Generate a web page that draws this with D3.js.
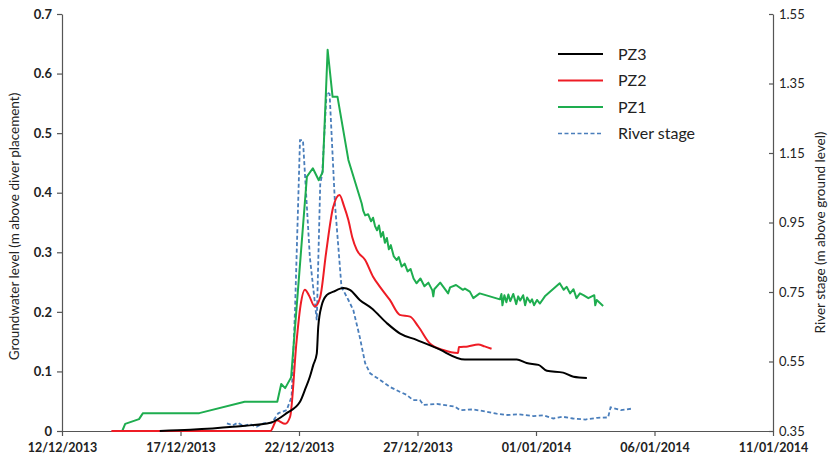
<!DOCTYPE html>
<html><head><meta charset="utf-8">
<script src="https://cdn.jsdelivr.net/npm/d3@7"></script>
<style>body{margin:0;background:#fff}svg{display:block}text{font-family:Lato,"Open Sans",sans-serif}</style>
</head><body>
<script>
// ---- data ----
const xTickLabels = ["2013-12-12","2013-12-17","2013-12-22","2013-12-27","2014-01-01","2014-01-06","2014-01-11"];
const leftTicks = [0,0.1,0.2,0.3,0.4,0.5,0.6,0.7];
const rightTicks = [0.35,0.55,0.75,0.95,1.15,1.35,1.55];
const seriesNames = ["PZ3","PZ2","PZ1","River stage"];

const pz3Times = ["2013-12-16 03:00","2013-12-17 10:00","2013-12-19 05:00","2013-12-20 19:00","2013-12-21 11:30","2013-12-22 01:00","2013-12-22 06:00","2013-12-22 11:00","2013-12-22 14:30","2013-12-22 18:00","2013-12-22 19:30","2013-12-22 23:00","2013-12-23 04:00","2013-12-23 11:00","2013-12-23 21:00","2013-12-24 03:30","2013-12-24 13:30","2013-12-25 01:30","2013-12-25 17:00","2013-12-26 06:00","2013-12-26 23:00","2013-12-27 19:30","2013-12-29 00:00","2013-12-31 04:30","2013-12-31 14:30","2014-01-01 02:30","2014-01-01 11:00","2014-01-02 03:30","2014-01-02 14:00","2014-01-03 03:30"];
const pz3Values = [0,0.002,0.007,0.014,0.030,0.049,0.069,0.091,0.111,0.130,0.175,0.211,0.228,0.234,0.240,0.237,0.220,0.206,0.181,0.164,0.153,0.139,0.120,0.120,0.114,0.111,0.101,0.098,0.091,0.089];

const pz2Times = ["2013-12-14 02:00","2013-12-20 19:00","2013-12-21 01:30","2013-12-21 10:00","2013-12-21 15:00","2013-12-21 21:30","2013-12-22 01:30","2013-12-22 06:00","2013-12-22 10:00","2013-12-22 16:00","2013-12-22 21:30","2013-12-23 03:30","2013-12-23 10:30","2013-12-23 17:00","2013-12-23 21:30","2013-12-24 02:00","2013-12-24 06:00","2013-12-24 10:30","2013-12-24 19:00","2013-12-25 03:00","2013-12-25 10:00","2013-12-25 20:00","2013-12-26 06:00","2013-12-26 16:30","2013-12-27 01:00","2013-12-27 12:30","2013-12-28 02:00","2013-12-28 17:00","2013-12-28 18:00","2013-12-29 03:00","2013-12-29 13:30","2013-12-29 20:00","2013-12-30 03:00"];
const pz2Values = [0,0,0.018,0.012,0.024,0.150,0.210,0.237,0.228,0.209,0.225,0.300,0.375,0.396,0.378,0.354,0.325,0.304,0.287,0.259,0.242,0.220,0.195,0.192,0.175,0.147,0.136,0.131,0.141,0.142,0.145,0.142,0.138];

const pz1Times = ["2013-12-14 13:00","2013-12-14 16:00","2013-12-15 06:00","2013-12-15 10:00","2013-12-17 19:00","2013-12-19 17:00","2013-12-21 02:00","2013-12-21 06:00","2013-12-21 10:00","2013-12-21 16:00","2013-12-22 08:00","2013-12-22 14:00","2013-12-22 20:00","2013-12-23 00:00","2013-12-23 05:00","2013-12-23 10:00","2013-12-23 15:00","2013-12-24 02:00","2013-12-24 15:30","2013-12-24 17:00","2013-12-24 19:00","2013-12-24 22:00","2013-12-25 01:00","2013-12-25 03:00","2013-12-25 05:00","2013-12-25 07:00","2013-12-25 09:00","2013-12-25 11:00","2013-12-25 13:00","2013-12-25 15:00","2013-12-25 17:00","2013-12-25 19:00","2013-12-25 21:00","2013-12-26 00:00","2013-12-26 03:00","2013-12-26 05:00","2013-12-26 08:00","2013-12-26 11:00","2013-12-26 14:00","2013-12-26 17:00","2013-12-26 20:00","2013-12-26 23:00","2013-12-27 03:00","2013-12-27 07:00","2013-12-27 11:00","2013-12-27 15:00","2013-12-27 16:00","2013-12-27 17:00","2013-12-27 23:00","2013-12-28 07:00","2013-12-28 09:00","2013-12-28 15:00","2013-12-28 22:00","2013-12-29 00:00","2013-12-29 05:00","2013-12-29 08:30","2013-12-29 15:00","2013-12-30 11:30","2013-12-30 13:00","2013-12-30 14:00","2013-12-30 16:00","2013-12-30 18:00","2013-12-30 20:00","2013-12-30 22:00","2013-12-31 01:00","2013-12-31 04:00","2013-12-31 06:00","2013-12-31 08:00","2013-12-31 11:00","2013-12-31 13:00","2013-12-31 15:00","2013-12-31 18:00","2013-12-31 20:00","2013-12-31 22:00","2014-01-01 01:00","2014-01-01 04:00","2014-01-01 09:00","2014-01-02 00:00","2014-01-02 04:00","2014-01-02 07:00","2014-01-02 10:30","2014-01-02 14:00","2014-01-02 17:00","2014-01-02 20:30","2014-01-03 00:00","2014-01-03 05:00","2014-01-03 11:00","2014-01-03 12:00","2014-01-03 13:30","2014-01-03 20:00"];
const pz1Values = [0,0.012,0.020,0.030,0.030,0.049,0.049,0.079,0.072,0.090,0.427,0.441,0.421,0.435,0.640,0.561,0.561,0.455,0.382,0.370,0.362,0.364,0.352,0.358,0.344,0.337,0.345,0.326,0.334,0.316,0.324,0.305,0.312,0.293,0.287,0.292,0.276,0.281,0.268,0.272,0.256,0.248,0.256,0.243,0.249,0.236,0.226,0.238,0.249,0.231,0.241,0.245,0.237,0.239,0.234,0.223,0.231,0.221,0.230,0.211,0.228,0.216,0.229,0.218,0.230,0.213,0.226,0.219,0.228,0.211,0.224,0.216,0.221,0.211,0.220,0.214,0.226,0.248,0.237,0.242,0.231,0.238,0.223,0.231,0.228,0.223,0.228,0.211,0.220,0.210];

const riverTimes = ["2013-12-18 23:00","2013-12-19 05:00","2013-12-19 10:00","2013-12-19 16:00","2013-12-19 22:00","2013-12-20 05:00","2013-12-20 12:00","2013-12-20 20:30","2013-12-21 03:00","2013-12-21 11:30","2013-12-21 16:30","2013-12-21 20:00","2013-12-22 01:00","2013-12-22 04:00","2013-12-22 11:00","2013-12-22 18:00","2013-12-22 21:30","2013-12-22 23:30","2013-12-23 04:00","2013-12-23 07:00","2013-12-23 12:30","2013-12-23 19:00","2013-12-24 02:00","2013-12-24 07:00","2013-12-24 13:30","2013-12-24 19:00","2013-12-25 00:00","2013-12-25 10:00","2013-12-25 20:00","2013-12-26 06:00","2013-12-26 13:00","2013-12-26 19:30","2013-12-27 02:30","2013-12-27 06:00","2013-12-27 19:30","2013-12-28 14:00","2013-12-28 19:00","2013-12-29 08:00","2013-12-29 21:30","2013-12-30 08:00","2013-12-30 18:00","2013-12-31 06:00","2013-12-31 21:30","2014-01-01 08:00","2014-01-01 17:30","2014-01-02 03:00","2014-01-02 13:30","2014-01-03 02:00","2014-01-03 14:00","2014-01-04 01:00","2014-01-04 03:30","2014-01-04 14:00","2014-01-05 02:30"];
const riverValues = [0.372,0.366,0.374,0.364,0.370,0.362,0.372,0.374,0.401,0.410,0.449,0.700,1.187,1.187,0.850,0.669,1.060,1.090,1.326,1.320,1.000,0.765,0.727,0.698,0.621,0.545,0.516,0.497,0.477,0.463,0.454,0.439,0.439,0.425,0.428,0.420,0.410,0.412,0.406,0.400,0.396,0.398,0.393,0.395,0.386,0.391,0.386,0.383,0.388,0.389,0.418,0.410,0.415];

// ---- chart ----
const W = 837, H = 459;
const M = {left: 62, right: 64, top: 14, bottom: 28};
const parse = d3.timeParse("%Y-%m-%d %H:%M");
const parseDay = d3.timeParse("%Y-%m-%d");
const fmt = d3.timeFormat("%d/%m/%Y");

const svg = d3.select("body").append("svg").attr("width", W).attr("height", H);

const x = d3.scaleTime().domain([parseDay(xTickLabels[0]), parseDay(xTickLabels[xTickLabels.length-1])]).range([M.left, W - M.right]);
const yL = d3.scaleLinear().domain([0, 0.7]).range([H - M.bottom, M.top]);
const yR = d3.scaleLinear().domain([0.35, 1.55]).range([H - M.bottom, M.top]);

// axes
const gx = svg.append("g").attr("transform", `translate(0,${H - M.bottom})`)
  .call(d3.axisBottom(x).tickValues(xTickLabels.map(parseDay)).tickFormat(fmt).tickSize(5).tickSizeOuter(0));
gx.selectAll("text").attr("font-size", 12.5).attr("font-weight", "bold").attr("fill", "#222").attr("dy", "1.05em");

const gl = svg.append("g").attr("transform", `translate(${M.left},0)`)
  .call(d3.axisLeft(yL).tickValues(leftTicks).tickFormat(d => d === 0 ? "0" : d3.format(".1f")(d)).tickSize(5).tickSizeOuter(0));
gl.selectAll("text").attr("font-size", 13).attr("font-weight", "bold").attr("fill", "#222").attr("x", -10);

const gr = svg.append("g").attr("transform", `translate(${W - M.right},0)`)
  .call(d3.axisRight(yR).tickValues(rightTicks).tickFormat(d3.format(".2f")).tickSize(-4).tickSizeOuter(0));
gr.selectAll("text").attr("font-size", 13).attr("fill", "#222").attr("x", 6);

svg.selectAll(".domain, .tick line").attr("stroke", "#555").attr("stroke-width", 1.2);

// axis titles
svg.append("text").attr("transform", `translate(19,${(M.top + H - M.bottom)/2 + 4}) rotate(-90)`)
  .attr("text-anchor", "middle").attr("font-size", 13.5).attr("fill", "#222")
  .text("Groundwater level (m above diver placement)");
svg.append("text").attr("transform", `translate(825,${(M.top + H - M.bottom)/2 + 10}) rotate(-90)`)
  .attr("text-anchor", "middle").attr("font-size", 13.5).attr("fill", "#222")
  .text("River stage (m above ground level)");

// lines
function mk(times, values){ return times.map((t,i) => ({t: parse(t), v: values[i]})); }
const lineL = d3.line().x(d => x(d.t)).y(d => yL(d.v));
const lineLs = d3.line().x(d => x(d.t)).y(d => yL(d.v)).curve(d3.curveMonotoneX);
const lineR = d3.line().x(d => x(d.t)).y(d => yR(d.v));

const colors = {pz3: "#000000", pz2: "#ee1c25", pz1: "#1ead4f", river: "#4a7ebb"};

svg.append("path").datum(mk(riverTimes, riverValues)).attr("d", lineR)
  .attr("fill", "none").attr("stroke", colors.river).attr("stroke-width", 1.8).attr("stroke-dasharray", "4,2.5");
svg.append("path").datum(mk(pz1Times, pz1Values)).attr("d", lineL)
  .attr("fill", "none").attr("stroke", colors.pz1).attr("stroke-width", 2).attr("stroke-linejoin", "round");
svg.append("path").datum(mk(pz2Times, pz2Values)).attr("d", lineLs)
  .attr("fill", "none").attr("stroke", colors.pz2).attr("stroke-width", 2);
svg.append("path").datum(mk(pz3Times, pz3Values)).attr("d", lineLs)
  .attr("fill", "none").attr("stroke", colors.pz3).attr("stroke-width", 2);

// legend
const legColors = [colors.pz3, colors.pz2, colors.pz1, colors.river];
const leg = svg.append("g");
seriesNames.forEach((n, i) => {
  const yy = 54 + i * 26.5;
  leg.append("line").attr("x1", 558).attr("x2", 603).attr("y1", yy).attr("y2", yy)
    .attr("stroke", legColors[i]).attr("stroke-width", i === 3 ? 1.6 : 2)
    .attr("stroke-dasharray", i === 3 ? "4,2.5" : null);
  leg.append("text").attr("x", 618).attr("y", yy).attr("dy", "0.35em").attr("font-size", 16).attr("fill", "#222").text(n);
});
</script>
</body></html>
